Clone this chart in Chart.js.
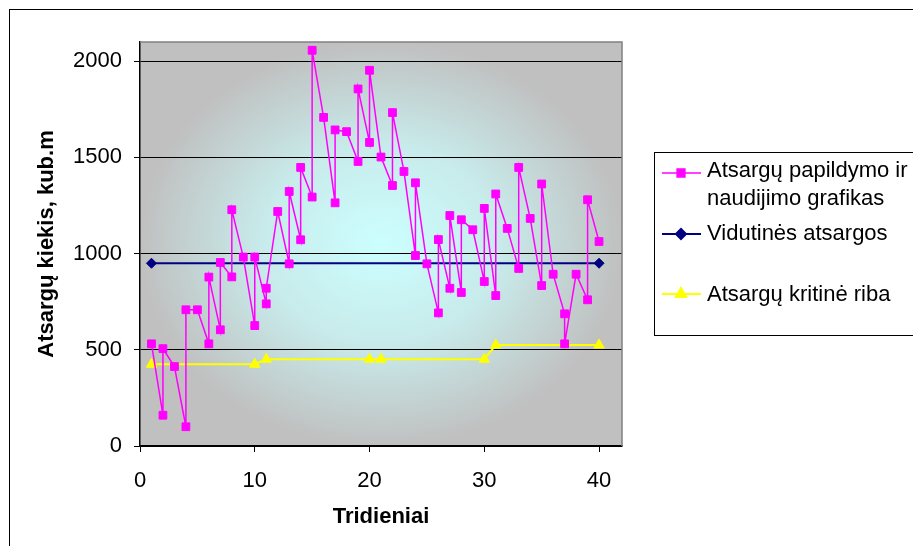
<!DOCTYPE html>
<html>
<head>
  <meta charset="utf-8">
  <title>Atsargų papildymo ir naudijimo grafikas</title>
  <script src="https://cdn.jsdelivr.net/npm/chart.js"></script>
  <style>
    html, body { margin: 0; padding: 0; background: #fff; }
  </style>
</head>
<body>
  <canvas id="atsargos" width="913" height="546"></canvas>

  <script>
    // Tridieniai ir atsargu kiekis (nuskaityta nuo paveikslo)
    const papildymoDienos = [1, 2, 2, 3, 4, 4, 5, 6, 6, 7, 7, 8, 8, 9, 10, 10, 11, 11, 12, 13, 13, 14, 14, 15, 15, 16,
      17, 17, 18, 19, 19, 20, 20, 21, 22, 22, 23, 24, 24, 25, 26, 26, 27, 27, 28, 28, 29, 30, 30, 31, 31, 32,
      33, 33, 34, 35, 35, 36, 37, 37, 38, 39, 39, 40];
    const papildymoKiekis = [531, 160, 506, 413, 100, 708, 708, 531, 878, 604, 954, 879, 1228, 982, 626, 982, 739, 820, 1219, 947, 1323, 1072, 1448, 1294, 2057, 1708,
      1264, 1643, 1634, 1479, 1856, 1578, 1953, 1502, 1354, 1733, 1427, 990, 1368, 947, 692, 1073, 820, 1198, 798, 1176, 1124, 855, 1235, 782, 1310, 1131,
      923, 1448, 1183, 834, 1362, 893, 687, 531, 893, 760, 1280, 1063];

    const vidutinesDienos = [1, 40];
    const vidutinesKiekis = [950, 950];

    const kritinesDienos = [1, 10, 11, 20, 21, 30, 31, 40];
    const kritinesKiekis = [425, 425, 451, 451, 451, 451, 525, 525];

    const xTicks = [0, 10, 20, 30, 40];
    const yTicks = [0, 500, 1000, 1500, 2000];

    const legendLines = [
      ['Atsargų papildymo ir', 'naudijimo grafikas'],
      ['Vidutinės atsargos'],
      ['Atsargų kritinė riba']
    ];

    const FONT = '"Liberation Sans", Arial, sans-serif';

    function points(xs, ys) {
      return xs.map((x, i) => ({ x: x, y: ys[i] }));
    }

    // fonas: remelis ir gradientas braizymo srityje
    const backgroundPlugin = {
      id: 'fonas',
      beforeDraw(chart) {
        const ctx = chart.ctx;
        const a = chart.chartArea;
        ctx.save();
        ctx.strokeStyle = '#000';
        ctx.lineWidth = 1;
        ctx.strokeRect(9.5, 9.5, 1000, 1000);

        const cx = (a.left + a.right) / 2;
        const cy = (a.top + a.bottom) / 2;
        const rx = (a.right - a.left) / 2;
        const ry = (a.bottom - a.top) / 2;
        ctx.beginPath();
        ctx.rect(a.left, a.top, a.right - a.left, a.bottom - a.top);
        ctx.clip();
        ctx.translate(cx, cy);
        ctx.scale(rx, ry);
        const g = ctx.createRadialGradient(0, 0, 0, 0, 0, 1);
        g.addColorStop(0, '#ccffff');
        g.addColorStop(0.5, '#c8eaea');
        g.addColorStop(1, '#c0c0c0');
        ctx.fillStyle = g;
        ctx.fillRect(-1.5, -1.5, 3, 3);
        ctx.restore();
      },
      beforeDatasetsDraw(chart) {
        const ctx = chart.ctx;
        const a = chart.chartArea;
        ctx.save();
        ctx.strokeStyle = '#808080';
        ctx.lineWidth = 1.5;
        ctx.beginPath();
        ctx.moveTo(a.left, a.top);
        ctx.lineTo(a.right, a.top);
        ctx.lineTo(a.right, a.bottom);
        ctx.stroke();
        ctx.restore();
      }
    };

    // legenda piesiama ranka, kad tilptu dvieju eiluciu tekstas
    const legendPlugin = {
      id: 'legenda',
      afterDraw(chart) {
        const ctx = chart.ctx;
        ctx.save();
        ctx.fillStyle = '#fff';
        ctx.fillRect(654, 152, 300, 183);
        ctx.strokeStyle = '#000';
        ctx.lineWidth = 1;
        ctx.strokeRect(654.5, 152.5, 300, 183);

        const rows = [
          { lineY: 173, baselines: [177, 205] },
          { lineY: 234, baselines: [240] },
          { lineY: 294, baselines: [301] }
        ];
        chart.data.datasets.forEach((ds, i) => {
          const r = rows[i];
          ctx.strokeStyle = ds.borderColor;
          ctx.lineWidth = ds.borderWidth;
          ctx.beginPath();
          ctx.moveTo(662, r.lineY);
          ctx.lineTo(701, r.lineY);
          ctx.stroke();
          Chart.helpers.drawPoint(ctx, {
            pointStyle: ds.pointStyle,
            radius: ds.pointRadius,
            borderWidth: 1
          }, 681, r.lineY);
          ctx.fillStyle = ds.backgroundColor;
          ctx.fill();

          ctx.fillStyle = '#000';
          ctx.font = '22px ' + FONT;
          ctx.textBaseline = 'alphabetic';
          ctx.textAlign = 'left';
          legendLines[i].forEach((t, j) => ctx.fillText(t, 707, r.baselines[j]));
        });
        ctx.restore();
      }
    };

    new Chart(document.getElementById('atsargos'), {
      type: 'line',
      data: {
        datasets: [{
          label: legendLines[0].join(' '),
          data: points(papildymoDienos, papildymoKiekis),
          borderColor: '#ff00ff',
          backgroundColor: '#ff00ff',
          borderWidth: 1.5,
          pointStyle: 'rect',
          pointRadius: 5.5,
          pointBorderWidth: 1
        }, {
          label: legendLines[1].join(' '),
          data: points(vidutinesDienos, vidutinesKiekis),
          borderColor: '#000080',
          backgroundColor: '#000080',
          borderWidth: 2,
          pointStyle: 'rectRot',
          pointRadius: 5,
          pointBorderWidth: 1
        }, {
          label: legendLines[2].join(' '),
          data: points(kritinesDienos, kritinesKiekis),
          borderColor: '#ffff00',
          backgroundColor: '#ffff00',
          borderWidth: 2,
          pointStyle: 'triangle',
          pointRadius: 6,
          pointBorderWidth: 1
        }]
      },
      options: {
        responsive: false,
        animation: false,
        layout: { padding: { top: 42, right: 291, bottom: 0, left: 0 } },
        scales: {
          x: {
            type: 'linear',
            min: 0,
            max: 42,
            afterFit(scale) { scale.height = 100; },
            afterBuildTicks(scale) { scale.ticks = xTicks.map(v => ({ value: v })); },
            ticks: {
              color: '#000',
              font: { family: FONT, size: 22 },
              padding: 16,
              maxRotation: 0,
              callback: v => String(v)
            },
            grid: { drawOnChartArea: false, tickLength: 6, tickColor: '#000' },
            border: { color: '#000', width: 1.5 },
            title: {
              display: true,
              text: 'Tridieniai',
              color: '#000',
              font: { family: FONT, size: 22, weight: 'bold' },
              padding: { top: 0, bottom: 16 }
            }
          },
          y: {
            min: 0,
            max: 2100,
            afterFit(scale) { scale.width = 140; },
            afterBuildTicks(scale) { scale.ticks = yTicks.map(v => ({ value: v })); },
            ticks: {
              color: '#000',
              font: { family: FONT, size: 22 },
              padding: 12,
              callback: v => String(v)
            },
            grid: { color: '#000', tickLength: 6, tickColor: '#000' },
            border: { color: '#000', width: 1.5 },
            title: {
              display: true,
              text: 'Atsargų kiekis, kub.m',
              color: '#000',
              font: { family: FONT, size: 22, weight: 'bold' },
              padding: { top: 34, bottom: 0 }
            }
          }
        },
        plugins: {
          legend: { display: false },
          tooltip: { enabled: false }
        }
      },
      plugins: [backgroundPlugin, legendPlugin]
    });
  </script>
</body>
</html>
